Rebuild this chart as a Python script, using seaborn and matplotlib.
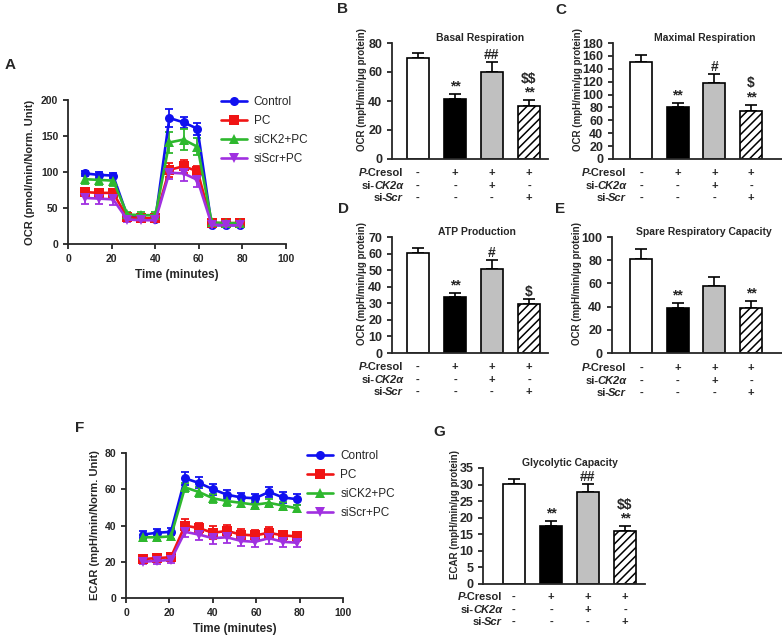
import numpy as np
import pandas as pd
import matplotlib
matplotlib.use("Agg")
import matplotlib.pyplot as plt
import seaborn as sns

# ---- datos ----
tiempos = [7.8, 14.3, 20.7, 27.2, 33.6, 40.1, 46.5, 53.0, 59.4, 65.9, 72.3, 78.8]
grupos = ["Control", "PC", "siCK2+PC", "siScr+PC"]

# A - OCR
ocr_control = [98, 96, 95, 39, 36, 35, 175, 169, 160, 26, 26, 26]
ocr_pc = [72, 71, 71, 37, 36, 36, 103, 108, 101, 29, 29, 29]
ocr_sick2 = [90, 89, 88, 41, 40, 40, 141, 145, 135, 30, 29, 29]
ocr_siscr = [64, 63, 62, 34, 33, 33, 99, 98, 89, 27, 26, 26]
ocr_err_control = [4, 4, 3, 4, 3, 3, 12, 8, 8, 3, 2, 2]
ocr_err_pc = [6, 6, 6, 4, 3, 3, 10, 9, 8, 3, 3, 3]
ocr_err_sick2 = [7, 7, 7, 4, 4, 4, 15, 15, 12, 3, 3, 3]
ocr_err_siscr = [8, 8, 8, 4, 3, 3, 9, 11, 10, 3, 3, 3]

# F - ECAR
ecar_control = [35, 36, 36.5, 66, 63.5, 60, 57, 55.5, 55, 58.5, 55.5, 54.5]
ecar_pc = [21.5, 22, 22.5, 40, 38.5, 36, 37, 35, 34.5, 36, 34.5, 34]
ecar_sick2 = [33.5, 33.5, 34, 61, 58.5, 55, 53.5, 52.5, 51.5, 52.5, 51, 49.5]
ecar_siscr = [20, 20.5, 21, 36.5, 35, 33, 33.5, 31.5, 31, 33, 31, 30.5]
ecar_err_control = [2, 2, 2, 3.5, 3, 3, 2.5, 2.5, 2.5, 3, 3, 3]
ecar_err_pc = [2, 2, 2, 3.5, 3, 3.5, 3.5, 3, 3, 3, 2.5, 2.5]
ecar_err_sick2 = [1.5, 1.5, 1.5, 2.5, 2.5, 2.5, 2.5, 2.5, 2, 2, 2, 2]
ecar_err_siscr = [1.5, 1.5, 1.5, 3, 3, 3, 3, 3, 3, 3, 3, 2.5]

# Barras
condiciones = ["ctrl", "pc", "pc_sick2", "pc_siscr"]
basal = [70, 41.5, 60, 36.6]
basal_err = [3.3, 3.2, 6.9, 4.1]
basal_sig = ["", "**", "##", "$$\n**"]
maximal = [150, 80, 118, 75]
maximal_err = [12, 7, 14, 9]
maximal_sig = ["", "**", "#", "$\n**"]
atp = [60.3, 34, 50.5, 29.6]
atp_err = [2.8, 2.3, 5.5, 3]
atp_sig = ["", "**", "#", "$"]
spare = [81, 39, 58, 38.7]
spare_err = [9, 4, 7.8, 6.3]
spare_sig = ["", "**", "", "**"]
glyco = [30.2, 17.6, 27.8, 16.0]
glyco_err = [1.4, 1.3, 2.3, 1.4]
glyco_sig = ["", "**", "##", "$$\n**"]

fila_pcresol = ["-", "+", "+", "+"]
fila_sick2 = ["-", "-", "+", "-"]
fila_siscr = ["-", "-", "-", "+"]

# ---- estilo ----
sns.set_style("ticks")
plt.rcParams["font.family"] = ["Liberation Sans", "DejaVu Sans"]
plt.rcParams["font.weight"] = "bold"
plt.rcParams["axes.labelweight"] = "bold"
plt.rcParams["axes.linewidth"] = 1.3
plt.rcParams["xtick.major.width"] = 1.3
plt.rcParams["ytick.major.width"] = 1.3
plt.rcParams["xtick.major.size"] = 3.5
plt.rcParams["ytick.major.size"] = 3.5
plt.rcParams["xtick.direction"] = "out"
plt.rcParams["ytick.direction"] = "out"
plt.rcParams["hatch.linewidth"] = 1.1

colores = {"Control": "#1010f0", "PC": "#f01414", "siCK2+PC": "#2eb82e", "siScr+PC": "#a030e0"}
marcadores = {"Control": "o", "PC": "s", "siCK2+PC": "^", "siScr+PC": "v"}
colores_barras = ["white", "black", "#c0c0c0", "white"]

W, H = 782, 635
fig = plt.figure(figsize=(W / 100, H / 100), dpi=100)


def caja(izq, arr, der, aba):
    return [izq / W, 1 - aba / H, (der - izq) / W, (aba - arr) / H]


def texto_px(x, y, s, **kw):
    fig.text(x / W, 1 - y / H, s, **kw)


def curvas(caja_px, series, errores, ylabel, ymax, paso, lbl_x, leg_xy):
    ax = fig.add_axes(caja(*caja_px))
    filas = []
    for g, vals in zip(grupos, series):
        for t, v in zip(tiempos, vals):
            filas.append({"Tiempo": t, "Valor": v, "Grupo": g})
    df = pd.DataFrame(filas)
    for g, vals, errs in zip(grupos, series, errores):
        ax.errorbar(tiempos, vals, yerr=errs, fmt="none", ecolor=colores[g],
                    elinewidth=1.3, capsize=3, capthick=1.3)
    sns.lineplot(data=df, x="Tiempo", y="Valor", hue="Grupo", style="Grupo",
                 hue_order=grupos, style_order=grupos, markers=marcadores,
                 dashes=False, palette=colores, linewidth=1.9, markersize=6.5,
                 markeredgewidth=0, errorbar=None, ax=ax)
    ax.set_xlim(0, 100)
    ax.set_ylim(0, ymax)
    ax.set_xticks(range(0, 101, 20))
    ax.set_yticks(range(0, ymax + 1, paso))
    ax.tick_params(labelsize=7.5)
    ax.set_xlabel("Time (minutes)", fontsize=8.5)
    ax.set_ylabel(ylabel, fontsize=8)
    ax.yaxis.set_label_coords(lbl_x, 0.5)
    sns.despine(ax=ax)
    handles, labels = ax.get_legend_handles_labels()
    ax.legend(handles, labels, loc="upper left", bbox_to_anchor=leg_xy,
              frameon=False, prop={"size": 8.5, "weight": "normal"},
              handlelength=2.2, handletextpad=0.6, labelspacing=0.6,
              borderaxespad=0, borderpad=0)
    return ax


def barras(caja_px, vals, errs, signos, titulo, tit_xy, ymax, paso, ylabel,
           lbl_x, c0=26, sep=37, etq_dx=-0.4, dys=(14, 27, 39)):
    izq, arr, der, aba = caja_px
    alto = aba - arr
    ax = fig.add_axes(caja(*caja_px))
    df = pd.DataFrame({"cond": condiciones, "valor": vals})
    sns.barplot(data=df, x="cond", y="valor", hue="cond", order=condiciones,
                hue_order=condiciones, palette=colores_barras, width=0.6,
                edgecolor="black", linewidth=1.2, errorbar=None, legend=False,
                ax=ax)
    for p in ax.containers[3]:
        p.set_hatch("////")
    ax.errorbar(range(4), vals, yerr=[np.zeros(4), errs], fmt="none",
                ecolor="black", elinewidth=1.2, capsize=4, capthick=1.2, zorder=0.5)
    for i, s in enumerate(signos):
        if s:
            ax.annotate(s, xy=(i, vals[i] + errs[i]), xytext=(0, 0.3),
                        textcoords="offset points", ha="center", va="bottom",
                        fontsize=10, weight="bold", linespacing=1.0,
                        parse_math=False, annotation_clip=False)
    ax.set_xlim(-c0 / sep, (der - izq - c0) / sep)
    ax.set_ylim(0, ymax)
    ax.set_yticks(np.arange(0, ymax + 1, paso))
    ax.set_xticks([])
    ax.set_xlabel("")
    ax.tick_params(axis="y", labelsize=9)
    ax.set_ylabel(ylabel, fontsize=7)
    ax.yaxis.set_label_coords(lbl_x, 0.6)
    sns.despine(ax=ax)

    tr = ax.get_xaxis_transform()
    filas = [("P", "italic", "-Cresol", "normal", fila_pcresol),
             ("si-", "normal", "CK2\u03b1", "italic", fila_sick2),
             ("si-", "normal", "Scr", "italic", fila_siscr)]
    for k, (t_izq, e_izq, t_der, e_der, marcas) in enumerate(filas):
        y = -dys[k] / alto
        t = ax.text(etq_dx, y, t_der, transform=tr, ha="right", va="center",
                    style=e_der, fontsize=8, weight="bold", clip_on=False)
        ax.annotate(t_izq, xy=(0, 0), xycoords=t, xytext=(0.8, 0),
                    textcoords="offset points", ha="right", va="bottom",
                    style=e_izq, fontsize=8, weight="bold")
        for i, m in enumerate(marcas):
            ax.text(i, y, m, transform=tr, ha="center", va="center",
                    fontsize=8, weight="bold", clip_on=False)
    texto_px(tit_xy[0], tit_xy[1], titulo, ha="center", va="center",
             fontsize=7.5, weight="bold")
    return ax


# A
curvas((68, 100, 286, 244),
       [ocr_control, ocr_pc, ocr_sick2, ocr_siscr],
       [ocr_err_control, ocr_err_pc, ocr_err_sick2, ocr_err_siscr],
       "OCR (pmol/min/Norm. Unit)", 200, 50, -0.15, (0.70, 1.03))

# F
curvas((126, 453, 343, 598),
       [ecar_control, ecar_pc, ecar_sick2, ecar_siscr],
       [ecar_err_control, ecar_err_pc, ecar_err_sick2, ecar_err_siscr],
       "ECAR (mpH/min/Norm. Unit)", 80, 20, -0.12, (0.835, 1.02))

ylab_ocr = "OCR (mpH/min/\u03bcg protein)"
barras((392, 43, 548, 159), basal, basal_err, basal_sig, "Basal Respiration",
       (480, 38), 80, 20, ylab_ocr, -0.16)
barras((613, 43, 782, 159), maximal, maximal_err, maximal_sig,
       "Maximal Respiration", (705, 38), 180, 20, ylab_ocr, -0.175,
       c0=28, sep=36.7)
barras((392, 237, 548, 353), atp, atp_err, atp_sig, "ATP Production",
       (477, 232), 70, 10, ylab_ocr, -0.16)
barras((612, 237, 782, 353), spare, spare_err, spare_sig,
       "Spare Respiratory Capacity", (704, 232), 100, 20, ylab_ocr, -0.175,
       c0=29, sep=36.7, dys=(15, 28, 40))
barras((483, 468, 645, 584), glyco, glyco_err, glyco_sig,
       "Glycolytic Capacity", (570, 463), 35, 5,
       "ECAR (mpH/min/\u03bcg protein)", -0.14, c0=31, sep=37,
       etq_dx=-0.32, dys=(13, 26, 38))

# letras de panel
for letra, x, y in [("A", 5, 65), ("B", 337, 9), ("C", 555, 10), ("D", 338, 209),
                    ("E", 555, 209), ("F", 75, 428), ("G", 433, 432)]:
    texto_px(x, y, letra, ha="left", va="center", fontsize=11, weight="bold")

fig.savefig("out.png", dpi=100)
